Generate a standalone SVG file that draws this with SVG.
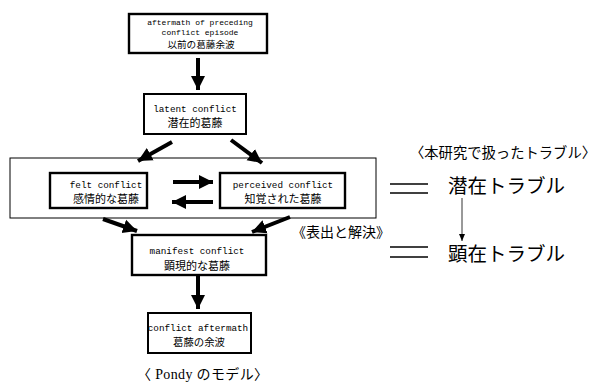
<svg xmlns="http://www.w3.org/2000/svg" width="600" height="383" viewBox="0 0 600 383">
<style>
.box{fill:#fff;stroke:#000;stroke-width:2.4}
.en{font-family:"Liberation Mono",monospace;font-size:9.3px;fill:#000;text-anchor:middle}
.en8{font-family:"Liberation Mono",monospace;font-size:8px;fill:#000;text-anchor:middle}
.ja{font-family:"Noto Sans CJK JP",sans-serif;font-size:11px;fill:#000;text-anchor:middle}
.lbl{font-family:"Liberation Serif","Noto Sans CJK JP",serif;fill:#000}
.arr{stroke:#000;stroke-width:4;fill:none}
.dbl{stroke:#000;stroke-width:1.6}
</style>
<defs>
<marker id="ah" markerUnits="userSpaceOnUse" markerWidth="16" markerHeight="16" viewBox="0 0 16 16" refX="14" refY="8" orient="auto">
<path d="M0,1 L14,8 L0,15 Z" fill="#000"/>
</marker>
<marker id="ahs" markerUnits="userSpaceOnUse" markerWidth="8" markerHeight="8" viewBox="0 0 8 8" refX="7" refY="4" orient="auto">
<path d="M0,1 L7,4 L0,7 Z" fill="#000"/>
</marker>
</defs>
<rect x="10" y="158" width="366" height="60" fill="none" stroke="#000" stroke-width="1"/>
<g id="connectors">
<line class="arr" x1="198" y1="58" x2="198" y2="90" marker-end="url(#ah)"/>
<line class="arr" x1="172" y1="142" x2="138" y2="161" marker-end="url(#ah)"/>
<line class="arr" x1="231" y1="140" x2="262" y2="163" marker-end="url(#ah)"/>
<line class="arr" x1="173" y1="182" x2="213" y2="182" marker-end="url(#ah)"/>
<line class="arr" x1="213" y1="202" x2="172" y2="202" marker-end="url(#ah)"/>
<line class="arr" x1="103" y1="219" x2="137" y2="231" marker-end="url(#ah)"/>
<line class="arr" x1="290" y1="217" x2="252" y2="232" marker-end="url(#ah)"/>
<line class="arr" x1="198" y1="276" x2="198" y2="309" marker-end="url(#ah)"/>
<line x1="462" y1="198" x2="462" y2="241" stroke="#000" stroke-width="0.8" marker-end="url(#ahs)"/>
<line class="dbl" x1="390" y1="184" x2="428" y2="184"/>
<line class="dbl" x1="390" y1="193" x2="428" y2="193"/>
<line class="dbl" x1="390" y1="247" x2="428" y2="247"/>
<line class="dbl" x1="390" y1="257" x2="428" y2="257"/>
</g>
<g id="n1">
<rect class="box" x="129" y="14" width="138" height="39"/>
<text class="en8" x="200" y="25">aftermath of  preceding</text>
<text class="en8" x="200" y="35">conflict episode</text>
<text class="ja" x="201" y="48" style="font-size:9.6px">以前の葛藤余波</text>
</g>
<g id="n2">
<rect class="box" x="144" y="94" width="102" height="40" style="stroke-width:2"/>
<text class="en" x="195" y="112">latent conflict</text>
<text class="ja" x="195" y="127">潜在的葛藤</text>
</g>
<g id="n3">
<rect class="box" x="50" y="173" width="97" height="35"/>
<text class="en" x="106" y="188">felt conflict</text>
<text class="ja" x="106" y="203">感情的な葛藤</text>
</g>
<g id="n4">
<rect class="box" x="220" y="173" width="125" height="35"/>
<text class="en" x="283" y="188">perceived conflict</text>
<text class="ja" x="283" y="203">知覚された葛藤</text>
</g>
<g id="n5">
<rect class="box" x="132" y="235" width="134" height="40"/>
<text class="en" x="197" y="254">manifest conflict</text>
<text class="ja" x="197" y="270">顕現的な葛藤</text>
</g>
<g id="n6">
<rect class="box" x="148" y="313" width="103" height="40" style="stroke-width:2"/>
<text class="en" x="198" y="331">conflict aftermath</text>
<text class="ja" x="199" y="346" style="font-size:10.4px">葛藤の余波</text>
</g>
<g id="labels">
<text class="lbl" x="410" y="158" font-size="14.5" textLength="186" lengthAdjust="spacingAndGlyphs">〈本研究で扱ったトラブル〉</text>
<text class="lbl" x="448" y="193" font-size="19.5">潜在トラブル</text>
<text class="lbl" x="448" y="261" font-size="19.5">顕在トラブル</text>
<text class="lbl" x="292" y="237" font-size="14">《表出と解決》</text>
<text class="lbl" x="137" y="379" font-size="14" textLength="131">〈 Pondy  のモデル〉</text>
</g>
</svg>
